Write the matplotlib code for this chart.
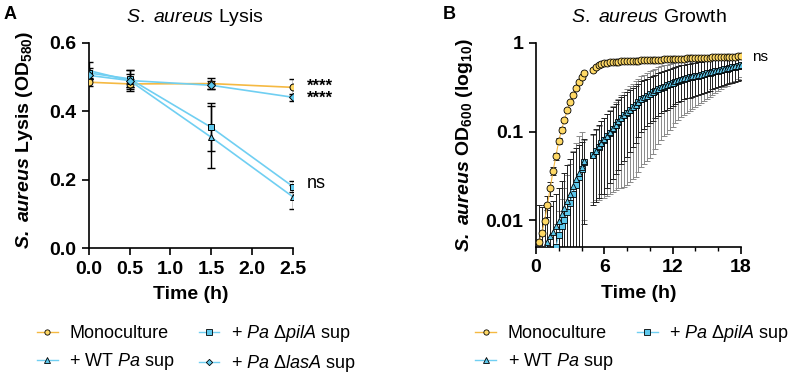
import numpy as np
import matplotlib
matplotlib.use("Agg")
import matplotlib.pyplot as plt
from matplotlib.lines import Line2D
from matplotlib.ticker import MultipleLocator, FixedLocator, FixedFormatter

plt.rcParams['font.family'] = ['Liberation Sans', 'DejaVu Sans']
plt.rcParams['mathtext.fontset'] = 'custom'
plt.rcParams['mathtext.rm'] = 'Liberation Sans'
plt.rcParams['mathtext.it'] = 'Liberation Sans:italic'
plt.rcParams['mathtext.bf'] = 'Liberation Sans:bold'
plt.rcParams['mathtext.bfit'] = 'Liberation Sans:bold:italic'

# ---- Panel A: lysis (OD580) ----
time_a = [0.0, 0.5, 1.5, 2.5]
mono_a = [0.485, 0.480, 0.481, 0.470]
mono_a_err = [0.010, 0.015, 0.015, 0.025]
wt_a = [0.519, 0.490, 0.324, 0.150]
wt_a_err = [0.025, 0.030, 0.090, 0.035]
pila_a = [0.512, 0.495, 0.353, 0.180]
pila_a_err = [0.015, 0.025, 0.070, 0.015]
lasa_a = [0.505, 0.490, 0.476, 0.441]
lasa_a_err = [0.012, 0.020, 0.012, 0.010]

# ---- Panel B: growth (OD600), sampled every 15 min, 0.25 h .. 18 h ----
time_b = np.arange(0.25, 18.01, 0.25)
nan = np.nan
mono_b = [0.0057, 0.0071, 0.0098, 0.0148, 0.023, 0.036, 0.053, 0.078,
          0.105, 0.136, 0.174, 0.214, 0.26, 0.31, 0.358, 0.41,
          0.456, nan, nan, 0.50, 0.535, 0.56, 0.58, 0.59,
          0.60, 0.605, 0.61, 0.613, 0.616, 0.619, 0.622, 0.625,
          0.627, 0.629, 0.631, 0.633, 0.635, 0.637, 0.639, 0.641,
          0.643, 0.645, 0.647, 0.649, 0.651, 0.653, 0.655, 0.657,
          0.659, 0.661, 0.663, 0.665, 0.667, 0.669, 0.671, 0.673,
          0.675, 0.677, 0.679, 0.681, 0.683, 0.685, 0.687, 0.689,
          0.691, 0.693, 0.695, 0.697, 0.699, 0.701, 0.703, 0.705]
mono_b_err = [0.009, 0.007, 0.005, 0.004, 0.004, 0.004, 0.005, 0.006,
              0.007, 0.008, 0.009, 0.010, 0.011, 0.012, 0.013, 0.014,
              0.015, nan, nan, 0.015, 0.015, 0.015, 0.015, 0.015,
              0.015, 0.015, 0.015, 0.016, 0.016, 0.016, 0.016, 0.016,
              0.016, 0.017, 0.017, 0.017, 0.017, 0.017, 0.017, 0.018,
              0.018, 0.018, 0.018, 0.018, 0.018, 0.018, 0.019, 0.019,
              0.019, 0.019, 0.019, 0.019, 0.019, 0.019, 0.020, 0.020,
              0.020, 0.020, 0.020, 0.020, 0.020, 0.020, 0.020, 0.020,
              0.020, 0.020, 0.020, 0.020, 0.020, 0.020, 0.020, 0.020]
wt_b = [0.003, 0.0035, 0.004, 0.0057, 0.0066, 0.0074, 0.0087, 0.0098,
        0.0117, 0.0139, 0.0165, 0.0196, 0.0243, 0.0289, 0.034, 0.040,
        0.046, nan, nan, 0.055, 0.061, 0.068, 0.075, 0.082,
        0.090, 0.098, 0.109, 0.120, 0.131, 0.143, 0.154, 0.165,
        0.177, 0.189, 0.201, 0.217, 0.233, 0.244, 0.255, 0.267,
        0.279, 0.291, 0.303, 0.316, 0.325, 0.334, 0.343, 0.355,
        0.368, 0.379, 0.390, 0.397, 0.404, 0.411, 0.418, 0.424,
        0.431, 0.437, 0.446, 0.455, 0.464, 0.473, 0.482, 0.490,
        0.499, 0.508, 0.517, 0.526, 0.535, 0.544, 0.555, 0.566]
wt_b_err = [0, 0, 0, 0.0075, 0.008, 0.009, 0.011, 0.013,
            0.016, 0.020, 0.025, 0.030, 0.034, 0.036, 0.037, 0.037,
            0.037, nan, nan, 0.040, 0.045, 0.050, 0.055, 0.062,
            0.067, 0.072, 0.080, 0.087, 0.094, 0.100, 0.107, 0.113,
            0.118, 0.122, 0.126, 0.130, 0.134, 0.137, 0.140, 0.143,
            0.146, 0.149, 0.152, 0.154, 0.156, 0.158, 0.160, 0.162,
            0.164, 0.165, 0.166, 0.167, 0.168, 0.169, 0.170, 0.171,
            0.172, 0.172, 0.173, 0.173, 0.174, 0.174, 0.175, 0.175,
            0.176, 0.176, 0.177, 0.177, 0.178, 0.178, 0.179, 0.180]
pila_b = [0.002, 0.002, 0.0025, 0.003, 0.0035, 0.004, 0.005, 0.0068,
          0.0085, 0.010, 0.0125, 0.0155, 0.020, 0.025, 0.031, 0.038,
          0.045, nan, nan, 0.054, 0.060, 0.067, 0.074, 0.081,
          0.089, 0.097, 0.107, 0.118, 0.129, 0.141, 0.152, 0.163,
          0.175, 0.187, 0.199, 0.214, 0.230, 0.241, 0.252, 0.264,
          0.276, 0.288, 0.300, 0.312, 0.322, 0.331, 0.340, 0.352,
          0.364, 0.375, 0.386, 0.394, 0.401, 0.408, 0.415, 0.421,
          0.428, 0.434, 0.443, 0.452, 0.461, 0.470, 0.479, 0.487,
          0.496, 0.505, 0.514, 0.523, 0.532, 0.541, 0.552, 0.562]
pila_b_err = [0, 0, 0, 0, 0, 0.003, 0.004, 0.006,
              0.009, 0.013, 0.020, 0.028, 0.040, 0.050, 0.058, 0.062,
              0.035, nan, nan, 0.038, 0.043, 0.050, 0.056, 0.063,
              0.070, 0.077, 0.086, 0.096, 0.106, 0.118, 0.128, 0.138,
              0.148, 0.158, 0.168, 0.179, 0.190, 0.198, 0.205, 0.214,
              0.220, 0.225, 0.228, 0.232, 0.234, 0.236, 0.237, 0.240,
              0.240, 0.240, 0.240, 0.239, 0.238, 0.236, 0.234, 0.232,
              0.229, 0.226, 0.222, 0.218, 0.214, 0.210, 0.205, 0.200,
              0.195, 0.190, 0.184, 0.178, 0.172, 0.166, 0.160, 0.154]

# colours
yel_face = '#FFD966'
yel_line = '#F5B942'
blue_face = '#5EC8EC'
blue_line = '#70CFF2'

label_mono = 'Monoculture'
label_wt = r'+ WT $\mathit{Pa}$ sup'
label_pila = r'+ $\mathit{Pa}$ Δ$\mathit{pilA}$ sup'
label_lasa = r'+ $\mathit{Pa}$ Δ$\mathit{lasA}$ sup'

fig = plt.figure(figsize=(8, 3.73), dpi=100)
ax1 = fig.add_axes([0.111, 0.335, 0.255, 0.55])
ax2 = fig.add_axes([0.670, 0.338, 0.256, 0.547])

def style_axes(ax):
    for s in ['top', 'right']:
        ax.spines[s].set_visible(False)
    for s in ['left', 'bottom']:
        ax.spines[s].set_linewidth(1.2)
    ax.tick_params(which='major', length=5, width=1.2, labelsize=14, pad=4)
    ax.tick_params(which='minor', length=3, width=1.0)
    for lab in ax.get_xticklabels() + ax.get_yticklabels():
        lab.set_fontweight('bold')

# ---- panel A ----
series_a = [
    (mono_a, mono_a_err, 'o', yel_face, yel_line),
    (wt_a, wt_a_err, '^', blue_face, blue_line),
    (pila_a, pila_a_err, 's', blue_face, blue_line),
    (lasa_a, lasa_a_err, 'D', blue_face, blue_line),
]
for vals, errs, mk, fc, lc in series_a:
    ax1.errorbar(time_a, vals, yerr=errs, fmt='none', ecolor='black',
                 elinewidth=1.0, capsize=3, capthick=1.0, zorder=2)
for vals, errs, mk, fc, lc in series_a:
    ms = 4.2 if mk == 'D' else 5
    ax1.plot(time_a, vals, color=lc, lw=1.2, marker=mk, ms=ms, mfc=fc,
             mec='black', mew=0.7, zorder=3)

ax1.set_xlim(0, 2.5)
ax1.set_ylim(0, 0.6)
ax1.set_xticks([0, 0.5, 1.0, 1.5, 2.0, 2.5])
ax1.set_xticklabels(['0.0', '0.5', '1.0', '1.5', '2.0', '2.5'])
ax1.set_yticks([0, 0.2, 0.4, 0.6])
ax1.set_yticklabels(['0.0', '0.2', '0.4', '0.6'])
style_axes(ax1)
ax1.set_xlabel('Time (h)', fontsize=14, fontweight='bold', labelpad=6)
ax1.set_ylabel(r'$\mathbfit{S.\ aureus}\ \mathbf{Lysis\ (OD_{580})}$', fontsize=14)
ax1.yaxis.set_label_coords(-0.266, 0.53)

# significance marks (two stacked rows for the lasA / monoculture pair)
ax1.text(2.67, 0.456, '****\n****', fontsize=12, fontweight='bold', va='center',
         ha='left', linespacing=0.72, clip_on=False)
ax1.text(2.67, 0.190, 'ns', fontsize=13, va='center', ha='left', clip_on=False)

# ---- panel B ----
ax2.set_yscale('log')
ax2.errorbar(time_b, pila_b, yerr=pila_b_err, fmt='none', ecolor='#8a8a8a',
             elinewidth=0.7, capsize=2, capthick=0.7, zorder=2)
ax2.errorbar(time_b, wt_b, yerr=wt_b_err, fmt='none', ecolor='#222222',
             elinewidth=0.7, capsize=2, capthick=0.7, zorder=2)
ax2.plot(time_b, pila_b, color=blue_line, lw=0.8, marker='s', ms=4.5,
         mfc=blue_face, mec='black', mew=0.6, zorder=3)
ax2.plot(time_b, wt_b, color=blue_line, lw=0.8, marker='^', ms=4.5,
         mfc=blue_face, mec='black', mew=0.6, zorder=3)
ax2.errorbar(time_b, mono_b, yerr=mono_b_err, fmt='none', ecolor='#222222',
             elinewidth=0.7, capsize=2, capthick=0.7, zorder=4)
ax2.plot(time_b, mono_b, color=yel_line, lw=0.8, marker='o', ms=5,
         mfc=yel_face, mec='black', mew=0.6, zorder=5)

ax2.set_xlim(0, 18)
ax2.set_ylim(0.005, 1)
ax2.xaxis.set_major_locator(FixedLocator([0, 6, 12, 18]))
ax2.xaxis.set_minor_locator(MultipleLocator(2))
ax2.yaxis.set_major_locator(FixedLocator([0.01, 0.1, 1]))
ax2.yaxis.set_major_formatter(FixedFormatter(['0.01', '0.1', '1']))
ax2.yaxis.set_minor_locator(FixedLocator([]))
style_axes(ax2)
ax2.set_xlabel('Time (h)', fontsize=14, fontweight='bold', labelpad=6)
ax2.set_ylabel(r'$\mathbfit{S.\ aureus}\ \mathbf{OD_{600}\ (log_{10})}$', fontsize=14)
ax2.yaxis.set_label_coords(-0.30, 0.5)
ax2.text(19.0, 0.70, 'ns', fontsize=11, va='center', ha='left', clip_on=False)

# titles and panel letters
fig.text(0.244, 0.952, r'$\mathit{S.\ aureus}$ Lysis', fontsize=14, ha='center', va='center')
fig.text(0.811, 0.952, r'$\mathit{S.\ aureus}$ Growth', fontsize=14, ha='center', va='center')
fig.text(0.004, 0.96, 'A', fontsize=13, fontweight='bold', va='center')
fig.text(0.553, 0.96, 'B', fontsize=13, fontweight='bold', va='center')

# legends
def handle(mk, fc, lc):
    ms = 3.2 if mk == 'D' else 3.8
    return Line2D([], [], color=lc, lw=1.0, marker=mk, ms=ms, mfc=fc,
                  mec='black', mew=0.6)

h_mono = handle('o', yel_face, yel_line)
h_wt = handle('^', blue_face, blue_line)
h_pila = handle('s', blue_face, blue_line)
h_lasa = handle('D', blue_face, blue_line)

leg_kw = dict(ncol=2, frameon=False, fontsize=13, handlelength=1.15,
              handletextpad=0.65, columnspacing=1.3, labelspacing=0.5,
              borderpad=0, borderaxespad=0, loc='upper left',
              bbox_transform=fig.transFigure)
fig.legend([h_mono, h_wt, h_pila, h_lasa],
           [label_mono, label_wt, label_pila, label_lasa],
           bbox_to_anchor=(0.046, 0.133), **leg_kw)
fig.legend([h_mono, h_wt, h_pila],
           [label_mono, label_wt, label_pila],
           bbox_to_anchor=(0.594, 0.133), **leg_kw)

fig.savefig('out.png', dpi=100)
